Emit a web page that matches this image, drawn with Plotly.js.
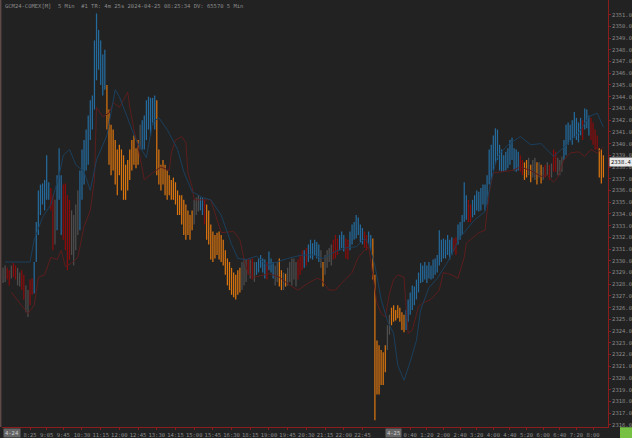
<!DOCTYPE html>
<html>
<head>
<meta charset="utf-8">
<script src="https://cdn.plot.ly/plotly-3.0.1.min.js"></script>
<style>html,body{margin:0;padding:0;background:#222222;}#chart{width:632px;height:438px;}</style>
</head>
<body>
<div id="chart"></div>
<script>
// ---- DATA ----
const chartTitle = "GCM24-COMEX[M]  5 Min  #1 TR: 4m 25s 2024-04-25 08:25:34 DV: 65570 5 Min";

// bar index 0 = 04-24 07:20, 5-minute bars (session break 17:00-18:00)
const barHigh = [
 2329.4,2329.6,2329.4,2329.2,2329.6,2329.8,2329.6,2329.4,2329.0,2329.2,
 2328.8,2327.9,2327.5,2328.4,2328.5,2329.9,2333.3,2336.0,2336.5,2336.6,
 2336.9,2339.0,2336.7,2336.2,2335.6,2335.2,2337.3,2339.6,2337.3,2336.5,
 2336.6,2335.6,2335.2,2334.3,2333.9,2334.8,2336.0,2337.7,2339.5,2340.3,
 2341.2,2342.4,2343.7,2344.1,2348.8,2351.1,2349.7,2348.8,2347.6,2348.0,
 2345.0,2342.9,2341.6,2341.2,2340.3,2339.5,2339.9,2339.5,2339.0,2338.2,
 2338.6,2339.5,2340.3,2340.7,2339.6,2340.3,2341.6,2342.0,2342.4,2343.7,
 2344.0,2343.9,2343.9,2344.1,2343.7,2339.5,2338.2,2338.6,2338.2,2337.7,
 2337.3,2336.9,2337.1,2336.7,2336.0,2335.6,2335.6,2335.2,2334.8,2334.3,
 2333.9,2334.3,2335.2,2335.4,2335.6,2335.4,2335.4,2335.2,2334.8,2334.3,
 2333.1,2332.5,2332.2,2332.4,2332.5,2332.2,2331.8,2330.9,2330.2,2329.9,
 2329.4,2329.0,2328.8,2329.2,2329.4,2329.9,2330.2,2330.1,2330.2,2330.1,
 2330.2,2329.9,2329.9,2330.2,2330.5,2330.2,2330.1,2329.9,2330.8,2330.2,
 2329.9,2329.6,2329.9,2330.2,2329.2,2329.0,2328.9,2329.4,2329.9,2330.2,
 2330.2,2329.9,2330.1,2330.5,2330.9,2330.9,2331.1,2331.4,2331.8,2331.5,
 2331.8,2331.6,2331.4,2330.9,2329.9,2330.5,2330.9,2331.1,2331.4,2331.8,
 2332.2,2331.9,2332.2,2332.5,2332.2,2331.9,2331.8,2332.5,2333.1,2333.3,
 2333.9,2333.7,2333.1,2332.8,2332.5,2332.2,2332.5,2332.2,2331.9,2328.8,
 2323.2,2322.8,2322.4,2322.2,2322.8,2324.5,2325.4,2326.0,2326.2,2325.8,
 2326.2,2326.0,2325.6,2325.4,2325.8,2326.7,2327.3,2327.9,2327.8,2328.4,
 2329.0,2329.8,2329.6,2329.9,2329.6,2329.9,2329.6,2330.1,2330.2,2330.5,
 2332.6,2331.8,2331.9,2331.8,2332.2,2331.8,2332.0,2331.9,2332.0,2333.1,
 2333.3,2333.9,2336.7,2335.6,2335.2,2334.8,2335.2,2335.6,2336.0,2335.9,
 2336.2,2336.5,2336.5,2337.3,2339.5,2339.9,2340.7,2341.3,2341.2,2339.9,
 2339.5,2339.0,2339.3,2339.6,2340.3,2340.5,2339.6,2339.5,2339.3,2339.0,
 2338.6,2338.4,2338.6,2338.8,2338.2,2338.6,2338.8,2338.4,2338.4,2338.2,
 2338.0,2338.2,2338.4,2338.2,2338.3,2339.5,2339.3,2338.8,2338.6,2338.9,
 2340.3,2341.6,2341.8,2341.6,2342.0,2342.7,2342.2,2341.8,2342.2,2342.0,
 2343.0,2342.9,2342.4,2342.2,2341.8,2341.2,2340.7,2339.6,2339.5,2339.0
];
const barLow = [
 2328.1,2328.2,2328.4,2327.9,2328.5,2328.6,2328.4,2327.9,2327.8,2327.5,
 2326.7,2325.6,2325.2,2326.2,2327.1,2327.2,2329.9,2332.2,2333.9,2334.8,
 2334.3,2335.2,2335.2,2334.3,2330.9,2331.4,2332.6,2335.2,2332.2,2331.8,
 2330.9,2329.2,2330.1,2330.5,2329.6,2330.9,2332.2,2332.6,2335.2,2336.5,
 2337.7,2338.2,2340.3,2341.2,2342.9,2345.4,2346.3,2345.0,2344.1,2344.6,
 2341.2,2338.2,2337.3,2337.7,2336.5,2335.6,2337.3,2336.0,2335.2,2335.2,
 2336.0,2336.9,2337.7,2338.2,2337.9,2338.2,2339.5,2339.5,2339.5,2340.3,
 2341.2,2340.7,2341.6,2341.2,2337.3,2336.5,2336.0,2336.5,2335.6,2335.2,
 2335.6,2335.2,2335.2,2334.8,2333.9,2333.9,2333.1,2332.2,2331.8,2332.2,
 2331.8,2332.6,2333.1,2333.9,2334.2,2334.3,2333.9,2333.1,2331.8,2331.4,
 2330.1,2329.9,2330.2,2330.5,2330.1,2329.9,2329.6,2328.8,2327.9,2327.5,
 2327.1,2326.9,2326.7,2327.1,2327.3,2327.5,2327.9,2328.2,2328.8,2328.5,
 2328.4,2328.2,2328.8,2329.0,2329.4,2329.0,2328.5,2328.4,2329.2,2329.0,
 2328.5,2327.9,2328.2,2327.8,2327.5,2327.5,2327.8,2327.9,2328.2,2327.9,
 2328.4,2327.8,2328.4,2328.8,2329.2,2329.4,2329.6,2329.9,2330.2,2330.1,
 2330.5,2330.2,2329.9,2329.4,2327.8,2328.8,2329.4,2329.9,2329.6,2330.1,
 2330.2,2330.5,2330.9,2331.1,2330.8,2330.2,2330.1,2330.9,2331.4,2331.8,
 2331.9,2332.2,2331.6,2331.4,2331.1,2330.9,2331.4,2330.9,2328.4,2316.4,
 2318.6,2318.6,2319.4,2319.4,2320.5,2322.4,2323.7,2324.5,2324.8,2324.9,
 2325.1,2324.8,2324.1,2323.9,2324.1,2324.8,2325.4,2325.8,2326.2,2326.7,
 2327.3,2328.1,2328.2,2328.4,2328.1,2328.5,2328.4,2328.5,2328.8,2329.0,
 2329.6,2329.9,2330.2,2330.2,2330.5,2330.1,2330.5,2330.8,2330.5,2331.4,
 2331.8,2332.2,2333.3,2333.5,2333.3,2333.3,2333.7,2333.9,2334.3,2334.2,
 2334.3,2334.8,2334.3,2334.8,2336.5,2336.9,2337.7,2338.2,2338.6,2337.7,
 2337.6,2337.6,2337.7,2337.9,2338.2,2338.6,2337.7,2337.6,2337.7,2337.6,
 2337.3,2336.9,2337.1,2337.3,2336.7,2337.1,2336.9,2336.5,2337.1,2336.6,
 2336.9,2337.1,2337.3,2336.9,2337.1,2337.6,2337.6,2337.3,2337.3,2337.6,
 2338.6,2339.0,2339.9,2340.3,2339.9,2340.5,2340.3,2340.1,2340.7,2340.3,
 2341.2,2341.3,2340.7,2340.3,2339.9,2339.5,2339.5,2337.1,2336.6,2337.1
];
// paint-bar state per bar: b = up (blue), o = down (orange), r = weak (red), g = neutral (gray)
const barState = (
 "ggrrgrrggr rggrrbbbbb bbbrrgbbbr rrrggggbbb bbbbbbbbbb " +
 "oooooooooo oooooogbbb bbbboooooo oooooooooo oogggbbroo " +
 "oooooooooo ooooogggrg rgbbbbbrbb bggoogoggg ggrrrbrbbb " +
 "bbbgoggggr rrbbbrrbbb bbbbrrbboo oooooggooo oooobbbbbb " +
 "bbbbbbbbbb bbbbbbbrrb bbbbrrbbbb bbbbbbbbbb bbbbbbbbbr " +
 "roogoggogo grgrgrrggg bbbbbbbbbr bbbrrrrooo"
).replace(/ /g, "").split("");

// indicator lines (bar index, price)
const blueLineIdx = [1,13,15,19,23,27,29,32,35,39,42,45,50,54,56,60,64,69,72,75,79,84,87,91,96,100,105,110,113,117,122,127,132,137,144,149,154,160,165,170,174,176,179,182,185,188,190,193,196,199,201,205,209,214,220,227,232,235,238,243,249,254,259,265,270,277,282,286,289];
const blueLineVal = [2329.9,2329.9,2331.8,2333.7,2334.8,2337.3,2339.0,2339.5,2338.2,2337.6,2336.0,2338.6,2340.7,2344.6,2344.0,2342.2,2340.3,2338.8,2341.8,2342.2,2341.2,2339.5,2337.6,2335.9,2335.4,2335.2,2333.9,2331.4,2330.2,2330.1,2330.4,2329.6,2329.9,2330.2,2330.5,2330.5,2330.2,2330.8,2331.1,2331.2,2331.9,2331.5,2329.6,2326.7,2324.9,2323.8,2321.1,2319.8,2321.4,2323.2,2325.8,2327.7,2328.5,2329.9,2332.0,2333.5,2334.2,2336.9,2338.9,2339.9,2340.6,2339.9,2340.0,2338.9,2339.7,2340.9,2342.3,2342.6,2341.4];
const redLineIdx = [4,9,12,15,17,20,23,26,28,30,33,36,39,42,44,45,48,51,53,56,59,60,61,63,65,67,68,72,76,80,81,83,86,88,89,91,92,100,105,111,114,116,118,121,128,133,139,142,147,151,153,157,160,163,168,171,174,176,180,182,184,186,188,190,193,194,195,197,200,202,206,210,212,216,219,222,223,225,229,232,234,236,240,245,249,254,259,262,265,267,270,273,277,280,283,286,289];
const redLineVal = [2327.3,2326.2,2325.5,2326.2,2328.6,2328.8,2330.3,2330.1,2330.9,2329.5,2329.8,2330.3,2332.9,2334.3,2336.9,2343.1,2342.3,2342.6,2343.5,2343.1,2344.0,2344.4,2343.1,2341.2,2339.7,2337.7,2336.9,2337.5,2338.0,2337.7,2339.2,2340.3,2340.6,2340.1,2337.5,2336.3,2335.2,2335.2,2332.4,2332.5,2331.8,2330.1,2328.9,2328.6,2328.9,2328.6,2327.8,2327.5,2328.1,2328.5,2328.4,2327.5,2327.5,2328.1,2329.0,2330.3,2330.9,2331.2,2326.4,2325.5,2325.2,2327.2,2328.4,2328.8,2328.6,2326.1,2323.8,2324.1,2326.1,2326.4,2326.7,2327.5,2329.0,2328.8,2328.5,2330.3,2331.5,2331.8,2332.4,2332.6,2335.8,2337.5,2337.6,2337.7,2338.0,2337.7,2337.2,2337.3,2336.7,2337.1,2338.6,2339.2,2339.3,2338.9,2339.5,2339.2,2339.7];

// time axis labels (bar index, text)
const timeTickIdx = [13,21,29,38,47,56,65,74,83,92,101,110,119,128,137,146,155,164,173,196,204,212,220,228,236,244,252,260,268,276,284];
const timeTickText = ["8:25","9:05","9:45","10:30","11:15","12:00","12:45","13:30","14:15","15:00","15:45","16:30","18:15","19:00","19:45","20:30","21:15","22:00","22:45","0:40","1:20","2:00","2:40","3:20","4:00","4:40","5:20","6:00","6:40","7:20","8:00"];
const dateMarkIdx = [0, 188];
const dateMarkText = ["4-24", "4-25"];
const priceTicks = [2316,2317,2318,2319,2320,2321,2322,2323,2324,2325,2326,2327,2328,2329,2330,2331,2332,2333,2334,2335,2336,2337,2338,2339,2340,2341,2342,2343,2344,2345,2346,2347,2348,2349,2350,2351];
const lastPrice = 2338.4;

// ---- STYLE ----
const stateColor = {b: "#246a9c", o: "#d9740f", r: "#8a0c0c", g: "#4e4e4e"};
const axisRed = "#8a1c1c";
const mono = "DejaVu Sans Mono, monospace";
const idx = barHigh.map((_, i) => i);

const traces = [
  {type: "bar", x: idx, base: barLow, y: barHigh.map((h, i) => h - barLow[i]),
   width: 0.6, marker: {color: barState.map(s => stateColor[s]), line: {width: 0}},
   hoverinfo: "skip"},
  {type: "scatter", mode: "lines", x: redLineIdx, y: redLineVal,
   line: {color: "#5c1d1d", width: 1}, hoverinfo: "skip"},
  {type: "scatter", mode: "lines", x: blueLineIdx, y: blueLineVal,
   line: {color: "#1a3f5c", width: 1}, hoverinfo: "skip"}
];

const annotations = [
  {xref: "paper", yref: "paper", x: 0, y: 1, xanchor: "left", yanchor: "top", xshift: 1, yshift: -1,
   text: chartTitle, showarrow: false, font: {family: mono, size: 5.5, color: "#8a8a8a"}},
  {xref: "paper", yref: "y", x: 1, y: lastPrice, xanchor: "left", yanchor: "middle", xshift: 1,
   text: lastPrice.toFixed(1), showarrow: false, bgcolor: "#e8e8e8", borderpad: 1,
   font: {family: mono, size: 5.5, color: "#111111"}}
];
dateMarkIdx.forEach((d, k) => annotations.push({
  xref: "x", yref: "paper", x: d, y: 0, xanchor: k === 0 ? "left" : "center", yanchor: "top", yshift: -1,
  text: dateMarkText[k], showarrow: false, bgcolor: "#666666", borderpad: 1,
  font: {family: mono, size: 5.5, color: "#cfcfcf"}
}));

const layout = {
  width: 632, height: 438,
  margin: {l: 2, r: 24, t: 0, b: 11, pad: 0},
  paper_bgcolor: "#222222", plot_bgcolor: "#222222",
  showlegend: false, barmode: "overlay",
  xaxis: {range: [-0.5, 291.2], tickmode: "array", tickvals: timeTickIdx, ticktext: timeTickText,
          tickangle: 0, tickfont: {family: mono, size: 5.5, color: "#8a8a8a"},
          ticks: "outside", ticklen: 2, tickcolor: axisRed, showgrid: false, zeroline: false,
          showline: true, linecolor: axisRed, linewidth: 1, fixedrange: true},
  yaxis: {side: "right", range: [2315.82, 2352.25], tickmode: "array", tickvals: priceTicks,
          ticktext: priceTicks.map(v => v.toFixed(1)),
          tickfont: {family: mono, size: 5.5, color: "#8a8a8a"},
          ticks: "outside", ticklen: 2, tickcolor: axisRed, showgrid: false, zeroline: false,
          showline: true, linecolor: axisRed, linewidth: 1, fixedrange: true},
  shapes: [
    {type: "line", xref: "paper", yref: "paper", x0: -0.002, x1: -0.002, y0: 0, y1: 1,
     line: {color: "#7a5a5a", width: 1}},
    {type: "rect", xref: "paper", yref: "paper", x0: 1.0198, x1: 1.04, y0: -0.03, y1: -0.0005,
     fillcolor: "#76c043", line: {width: 0}}
  ],
  annotations: annotations
};

Plotly.newPlot("chart", traces, layout, {staticPlot: true, displayModeBar: false});
</script>
</body>
</html>
